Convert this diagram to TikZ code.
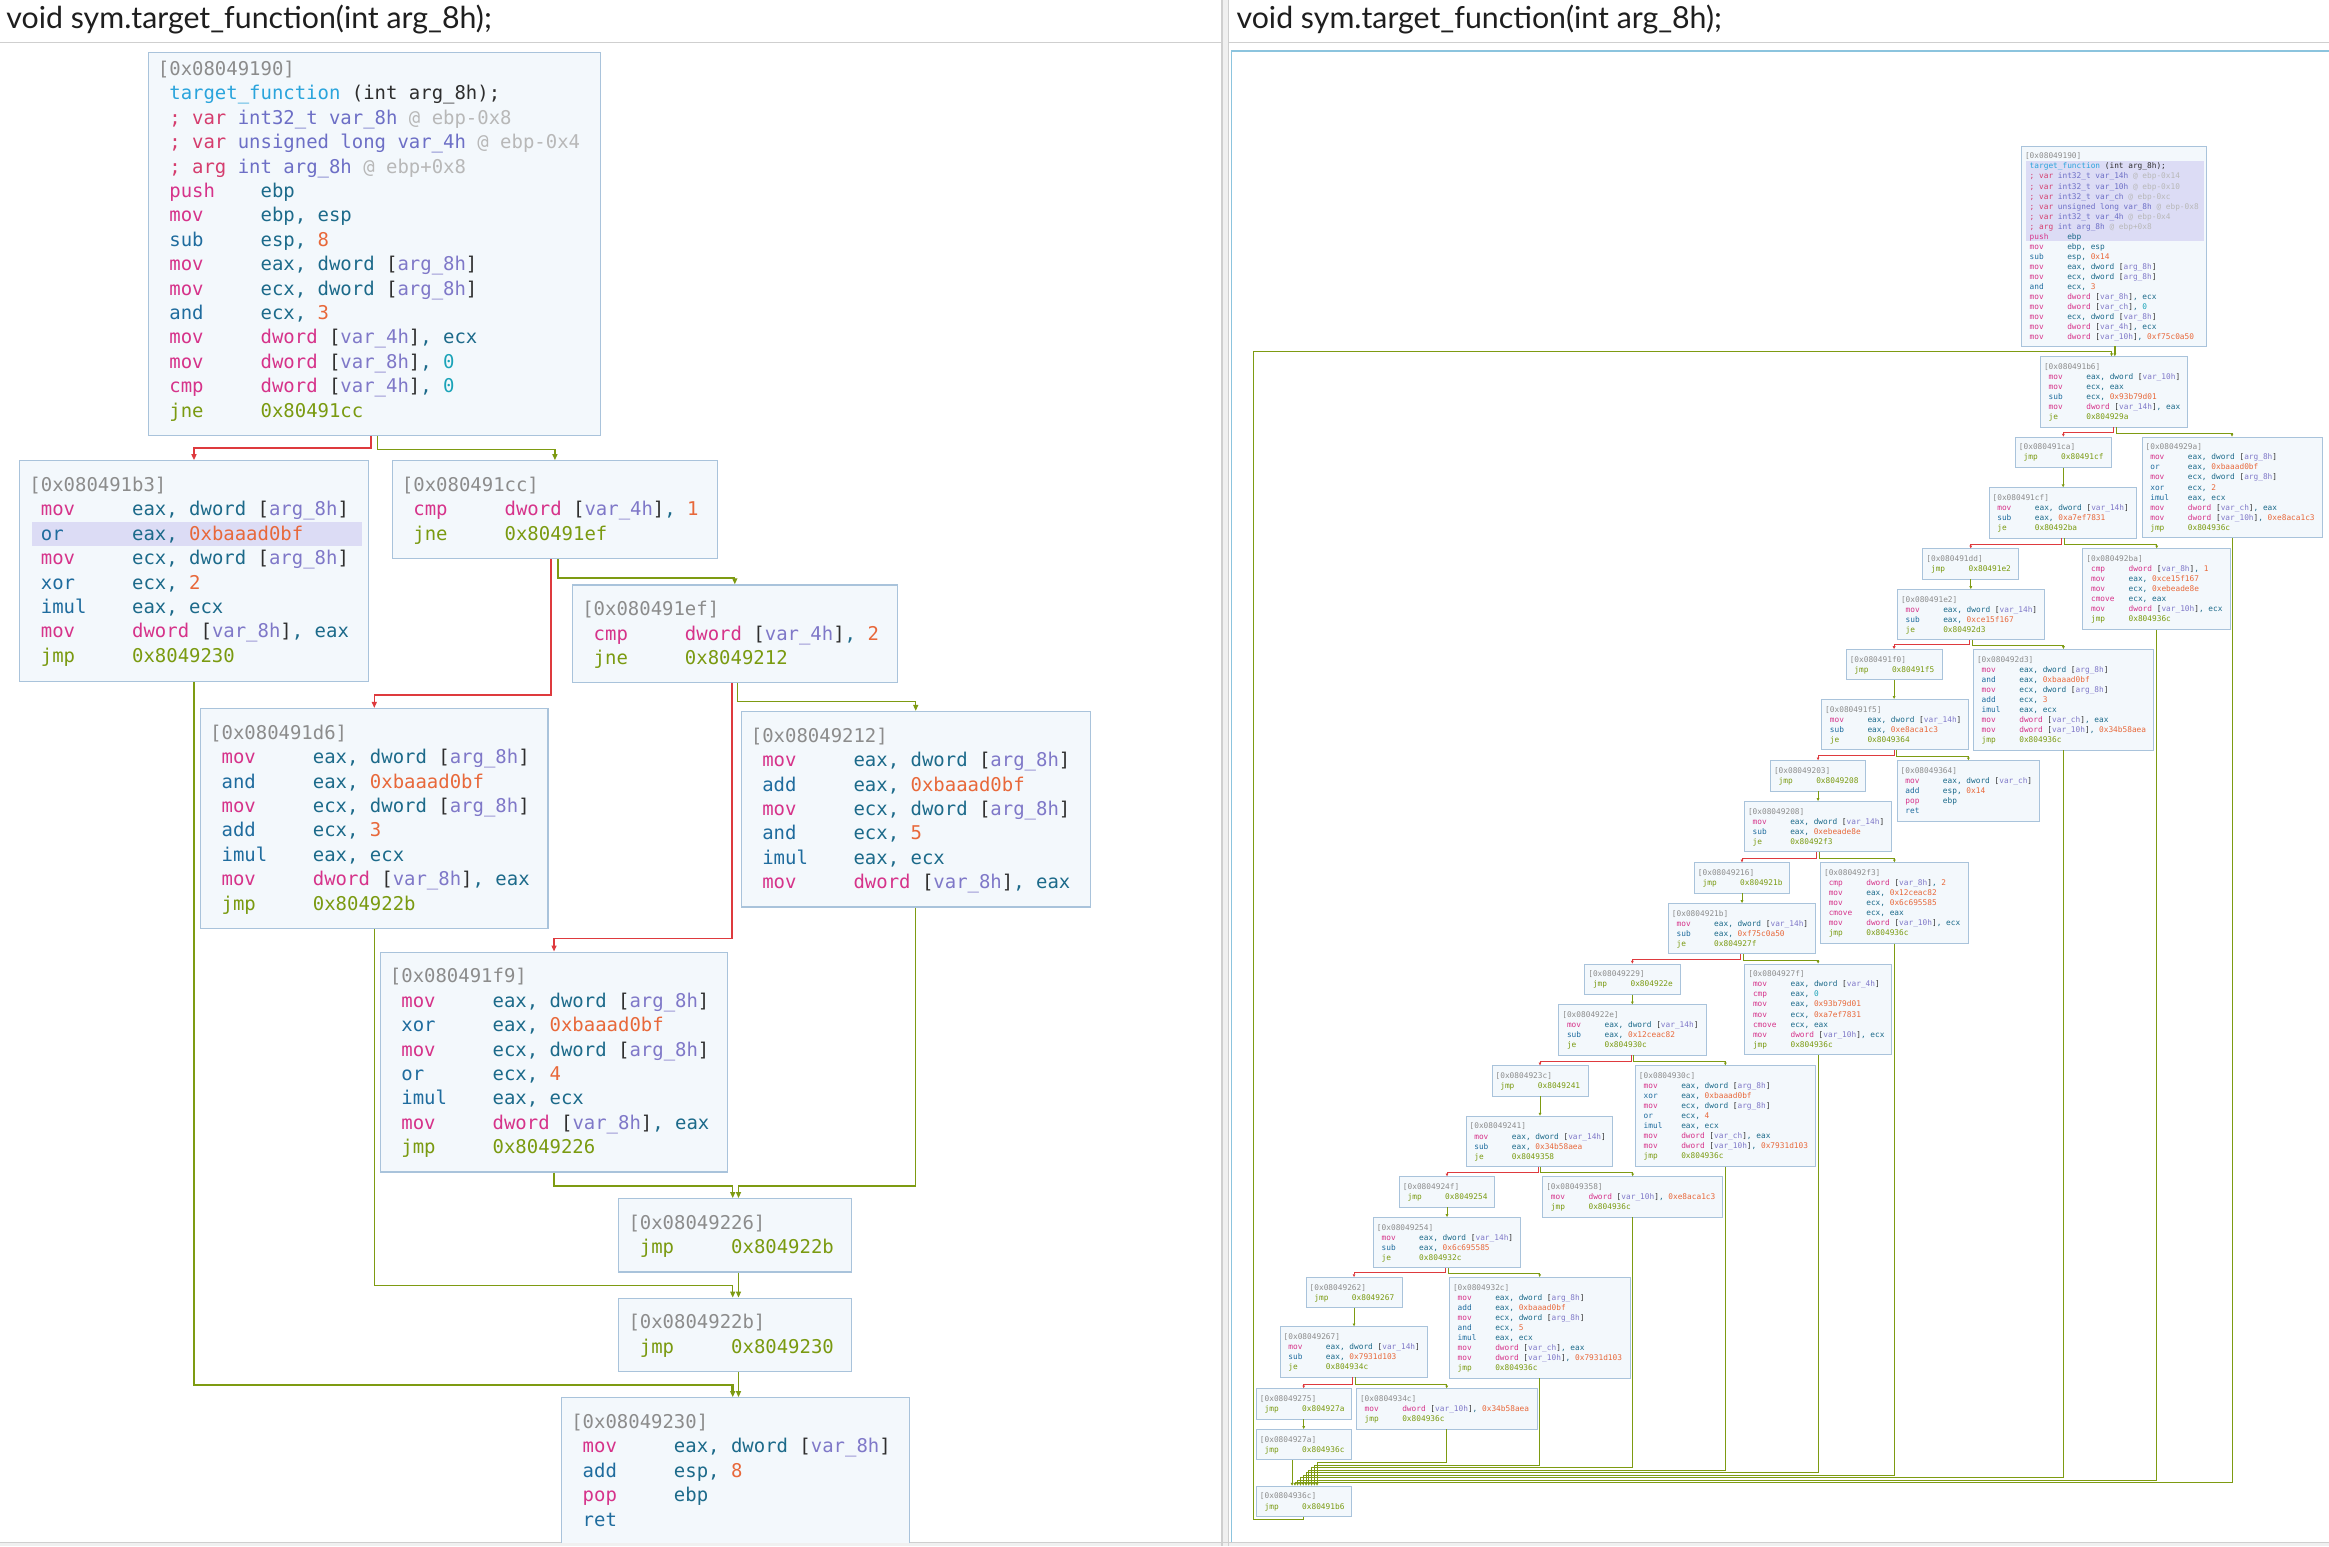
\documentclass[tikz,border=0pt]{standalone}
\usepackage{fontspec}
\usetikzlibrary{fit,arrows.meta}
\newfontfamily\hfont{Lato}
\newfontfamily\mfont{DejaVu Sans Mono}
\definecolor{caddr}{HTML}{8C8C8C}
\definecolor{cfunc}{HTML}{2AA4DC}
\definecolor{cdark}{HTML}{2E2E2E}
\definecolor{cvark}{HTML}{D53D6E}
\definecolor{ctype}{HTML}{6D6FC6}
\definecolor{cat}{HTML}{B8B8B8}
\definecolor{cpink}{HTML}{D6338A}
\definecolor{cblue}{HTML}{1F6C9E}
\definecolor{creg}{HTML}{1C6A8A}
\definecolor{cnum}{HTML}{E8683A}
\definecolor{czero}{HTML}{1AA3B8}
\definecolor{cvar}{HTML}{7F78C8}
\definecolor{cjmp}{HTML}{7A9A10}
\definecolor{cbfill}{HTML}{F3F8FC}
\definecolor{cbdraw}{HTML}{A9C3DB}
\definecolor{chl}{HTML}{DCDCF5}
\definecolor{cred}{HTML}{DE3A3E}
\definecolor{cgrn}{HTML}{7E9B12}
\definecolor{cframe}{HTML}{8CC4DE}
\definecolor{csep}{HTML}{CFCFCF}
\definecolor{csepfill}{HTML}{F0F0F0}
\definecolor{chead}{HTML}{1E1E1E}
\newcommand\cw{\fontcharwd\font`0 }
\newcommand\Ad[1]{\strut\textcolor{caddr}{[#1]}}
\newcommand\Lx[1]{\\\strut\hspace*{\cw}#1}
\newcommand\In[3]{\\\strut\hspace*{\cw}\makebox[8\cw][l]{\textcolor{#1}{#2}}#3}
\newcommand\Pk[2]{\In{cpink}{#1}{#2}}
\newcommand\Bl[2]{\In{cblue}{#1}{#2}}
\newcommand\Jm[2]{\In{cjmp}{#1}{\textcolor{cjmp}{#2}}}
\newcommand\Ri[1]{\textcolor{creg}{#1}}
\newcommand\Nu[1]{\textcolor{cnum}{#1}}
\newcommand\Ze[1]{\textcolor{czero}{#1}}
\newcommand\Va[1]{\textcolor{cdark}{[}\textcolor{cvar}{#1}\textcolor{cdark}{]}}
\newcommand\Src[1]{\textcolor{creg}{dword} \Va{#1}}
\newcommand\Dst[1]{\textcolor{cpink}{dword} \Va{#1}\Ri{,}}
\newcommand\Fn{\textcolor{cfunc}{target\_function} \textcolor{cdark}{(int arg\_8h);}}
\newcommand\Vr[3]{\textcolor{cvark}{; #1} \textcolor{ctype}{#2} \textcolor{cat}{@ #3}}
\newcommand\LB[7]{\node[lbox,fit={(#2,#3) (#4,#5)}] (#1) {};#7\node[ltext] (#1t) at (#2+6.4,#3+9.1) {#6};}
\newcommand\RB[7]{\node[rbox,fit={(#2,#3) (#4,#5)}] (#1) {};#7\node[rtext] (#1t) at (#2+2.3,#3+3.8) {#6};}
\newcommand\RC[9]{\draw[rr] (#1.south -| #2,0) |- (#5,#6) -- (#4.north -| #5,0);
\draw[rg] (#1.south -| #3,0) |- (#8,#9) -- (#7.north -| #8,0);}
\begin{document}
\begin{tikzpicture}[x=1.4853pt,y=-1.4853pt,
 lbox/.style={draw=cbdraw,fill=cbfill,line width=1.2pt,inner sep=0pt},
 rbox/.style={draw=cbdraw,fill=cbfill,line width=0.7pt,inner sep=0pt},
 ltext/.style={anchor=north west,inner sep=0pt,align=left,font=\mfont\fontsize{18.95}{24.4}\selectfont},
 rtext/.style={anchor=north west,inner sep=0pt,align=left,font=\mfont\fontsize{7.8}{10.04}\selectfont},
 lg/.style={draw=cgrn,line width=1.3pt,-{Triangle[length=6pt,width=5pt]}},
 lgt/.style={lg,line width=2.6pt},
 lr/.style={draw=cred,line width=1.3pt,-{Triangle[length=6pt,width=5pt]}},
 lrt/.style={lr,line width=2.6pt},
 rg/.style={draw=cgrn,line width=0.8pt,-{Triangle[length=2.8pt,width=2.6pt]}},
 rr/.style={draw=cred,line width=0.8pt,-{Triangle[length=2.8pt,width=2.6pt]}},
 hd/.style={anchor=base west,inner sep=0pt,font=\hfont\fontsize{30.3}{34}\selectfont,text=chead}]
\useasboundingbox (0,0) rectangle (1568,1041);
\fill[white] (0,0) rectangle (1568,1041);
% frame
\fill[csepfill] (822.7,0) rectangle (827.2,1041);
\fill[csepfill] (0,1038.6) rectangle (1568,1041);
\draw[csep,line width=1.2pt] (822.7,0) -- (822.7,1041);
\draw[csep,line width=1.2pt] (827.2,0) -- (827.2,1041);
\draw[csep,line width=1.2pt] (0,28.6) -- (822.7,28.6);
\draw[csep,line width=1.2pt] (827.2,28.6) -- (1568,28.6);
\draw[csep,line width=1.2pt] (0,1038.6) -- (1568,1038.6);
\draw[cframe,line width=1.3pt] (829,1038.4) -- (829,34.3) -- (1568,34.3);
\node[hd] (hl) at (4.2,19.3) {void sym.target\_function(int arg\_8h);};
\node[hd] (hr) at (832.4,19.3) {void sym.target\_function(int arg\_8h);};
% ================= left panel =================
\begin{scope}
\clip (0,33.8) rectangle (822.5,1038.4);
\node[lbox,fit={(99.8,35.2) (404.2,293.1)}] (L1) {};
\node[ltext] (L1t) at (106.2,39.2) {\Ad{0x08049190}\Lx{\Fn}\Lx{\Vr{var}{int32\_t var\_8h}{ebp-0x8}}\Lx{\Vr{var}{unsigned long var\_4h}{ebp-0x4}}\Lx{\Vr{arg}{int arg\_8h}{ebp+0x8}}\Pk{push}{\Ri{ebp}}\Pk{mov}{\Ri{ebp, esp}}\Bl{sub}{\Ri{esp,} \Nu{8}}\Pk{mov}{\Ri{eax,} \Src{arg\_8h}}\Pk{mov}{\Ri{ecx,} \Src{arg\_8h}}\Bl{and}{\Ri{ecx,} \Nu{3}}\Pk{mov}{\Dst{var\_4h} \Ri{ecx}}\Pk{mov}{\Dst{var\_8h} \Ze{0}}\Pk{cmp}{\Dst{var\_4h} \Ze{0}}\Jm{jne}{0x80491cc}};
\LB{L2}{13.3}{310.2}{248.1}{458.6}{\Ad{0x080491b3}\Pk{mov}{\Ri{eax,} \Src{arg\_8h}}\Bl{or}{\Ri{eax,} \Nu{0xbaaad0bf}}\Pk{mov}{\Ri{ecx,} \Src{arg\_8h}}\Bl{xor}{\Ri{ecx,} \Nu{2}}\Bl{imul}{\Ri{eax, ecx}}\Pk{mov}{\Dst{var\_8h} \Ri{eax}}\Jm{jmp}{0x8049230}}{\fill[chl] (21.3,351.1) rectangle (243.6,367.3);}
\LB{L3}{264.1}{310.2}{483.0}{376.1}{\Ad{0x080491cc}\Pk{cmp}{\Dst{var\_4h} \Nu{1}}\Jm{jne}{0x80491ef}}{}
\LB{L4}{385.5}{393.8}{604.0}{459.7}{\Ad{0x080491ef}\Pk{cmp}{\Dst{var\_4h} \Nu{2}}\Jm{jne}{0x8049212}}{}
\LB{L5}{135.0}{477.0}{369.0}{625.0}{\Ad{0x080491d6}\Pk{mov}{\Ri{eax,} \Src{arg\_8h}}\Bl{and}{\Ri{eax,} \Nu{0xbaaad0bf}}\Pk{mov}{\Ri{ecx,} \Src{arg\_8h}}\Bl{add}{\Ri{ecx,} \Nu{3}}\Bl{imul}{\Ri{eax, ecx}}\Pk{mov}{\Dst{var\_8h} \Ri{eax}}\Jm{jmp}{0x804922b}}{}
\LB{L6}{499.0}{479.0}{734.0}{610.6}{\Ad{0x08049212}\Pk{mov}{\Ri{eax,} \Src{arg\_8h}}\Bl{add}{\Ri{eax,} \Nu{0xbaaad0bf}}\Pk{mov}{\Ri{ecx,} \Src{arg\_8h}}\Bl{and}{\Ri{ecx,} \Nu{5}}\Bl{imul}{\Ri{eax, ecx}}\Pk{mov}{\Dst{var\_8h} \Ri{eax}}}{}
\LB{L7}{256.0}{641.0}{490.0}{789.0}{\Ad{0x080491f9}\Pk{mov}{\Ri{eax,} \Src{arg\_8h}}\Bl{xor}{\Ri{eax,} \Nu{0xbaaad0bf}}\Pk{mov}{\Ri{ecx,} \Src{arg\_8h}}\Bl{or}{\Ri{ecx,} \Nu{4}}\Bl{imul}{\Ri{eax, ecx}}\Pk{mov}{\Dst{var\_8h} \Ri{eax}}\Jm{jmp}{0x8049226}}{}
\LB{L8}{416.6}{807.0}{573.5}{856.4}{\Ad{0x08049226}\Jm{jmp}{0x804922b}}{}
\LB{L9}{416.6}{874.0}{573.5}{923.4}{\Ad{0x0804922b}\Jm{jmp}{0x8049230}}{}
\LB{L10}{378.1}{941.0}{612.4}{1045.0}{\Ad{0x08049230}\Pk{mov}{\Ri{eax,} \Src{var\_8h}}\Bl{add}{\Ri{esp,} \Nu{8}}\Pk{pop}{\Ri{ebp}}\Bl{ret}{}}{}
\draw[lrt] (L1.south -| 249.7,0) |- (130.6,301.5) -- (L2.north -| 130.6,0);
\draw[lg] (L1.south -| 254.3,0) |- (373.6,302.5) -- (L3.north -| 373.6,0);
\draw[lr] (L3.south -| 371.0,0) |- (252.0,468.0) -- (L5.north -| 252.0,0);
\draw[lg] (L3.south -| 375.7,0) |- (494.7,389.2) -- (L4.north -| 494.7,0);
\draw[lr] (L4.south -| 492.8,0) |- (373.0,632.0) -- (L7.north -| 373.0,0);
\draw[lg] (L4.south -| 496.7,0) |- (616.5,472.5) -- (L6.north -| 616.5,0);
\draw[lgt] (L2.south -| 130.6,0) |- (493.3,932.5) -- (L10.north -| 493.3,0);
\draw[lg] (L5.south -| 252.0,0) |- (493.3,865.5) -- (L9.north -| 493.3,0);
\draw[lg] (L7.south -| 373.0,0) |- (493.3,798.5) -- (L8.north -| 493.3,0);
\draw[lg] (L6.south -| 616.5,0) |- (497.2,798.5) -- (L8.north -| 497.2,0);
\draw[lg] (L8.south -| 497.2,0) -- (L9.north -| 497.2,0);
\draw[lg] (L9.south -| 497.2,0) -- (L10.north -| 497.2,0);
\end{scope}
% ================= right panel =================
\begin{scope}
\clip (829.6,34.9) rectangle (1568,1038.4);
\RB{R1}{1360.9}{98.3}{1485.4}{232.9}{\Ad{0x08049190}\Lx{\Fn}\Lx{\Vr{var}{int32\_t var\_14h}{ebp-0x14}}\Lx{\Vr{var}{int32\_t var\_10h}{ebp-0x10}}\Lx{\Vr{var}{int32\_t var\_ch}{ebp-0xc}}\Lx{\Vr{var}{unsigned long var\_8h}{ebp-0x8}}\Lx{\Vr{var}{int32\_t var\_4h}{ebp-0x4}}\Lx{\Vr{arg}{int arg\_8h}{ebp+0x8}}\Pk{push}{\Ri{ebp}}\Pk{mov}{\Ri{ebp, esp}}\Bl{sub}{\Ri{esp,} \Nu{0x14}}\Pk{mov}{\Ri{eax,} \Src{arg\_8h}}\Pk{mov}{\Ri{ecx,} \Src{arg\_8h}}\Bl{and}{\Ri{ecx,} \Nu{3}}\Pk{mov}{\Dst{var\_8h} \Ri{ecx}}\Pk{mov}{\Dst{var\_ch} \Ze{0}}\Pk{mov}{\Ri{ecx,} \Src{var\_8h}}\Pk{mov}{\Dst{var\_4h} \Ri{ecx}}\Pk{mov}{\Dst{var\_10h} \Nu{0xf75c0a50}}}{\fill[chl] (1364.0,108.6) rectangle (1483.9,162.2);}
\RB{R2}{1373.7}{240.1}{1472.9}{287.5}{\Ad{0x080491b6}\Pk{mov}{\Ri{eax,} \Src{var\_10h}}\Pk{mov}{\Ri{ecx, eax}}\Bl{sub}{\Ri{ecx,} \Nu{0x93b79d01}}\Pk{mov}{\Dst{var\_14h} \Ri{eax}}\Jm{je}{0x804929a}}{}
\RB{R3}{1356.8}{294.2}{1421.5}{314.6}{\Ad{0x080491ca}\Jm{jmp}{0x80491cf}}{}
\RB{R4}{1442.1}{294.2}{1563.3}{361.9}{\Ad{0x0804929a}\Pk{mov}{\Ri{eax,} \Src{arg\_8h}}\Bl{or}{\Ri{eax,} \Nu{0xbaaad0bf}}\Pk{mov}{\Ri{ecx,} \Src{arg\_8h}}\Bl{xor}{\Ri{ecx,} \Nu{2}}\Bl{imul}{\Ri{eax, ecx}}\Pk{mov}{\Dst{var\_ch} \Ri{eax}}\Pk{mov}{\Dst{var\_10h} \Nu{0xe8aca1c3}}\Jm{jmp}{0x804936c}}{}
\RB{R5}{1339.1}{328.3}{1438.3}{362.2}{\Ad{0x080491cf}\Pk{mov}{\Ri{eax,} \Src{var\_14h}}\Bl{sub}{\Ri{eax,} \Nu{0xa7ef7831}}\Jm{je}{0x80492ba}}{}
\RB{R6}{1294.5}{369.4}{1359.1}{389.8}{\Ad{0x080491dd}\Jm{jmp}{0x80491e2}}{}
\RB{R7}{1402.2}{369.4}{1501.8}{423.6}{\Ad{0x080492ba}\Pk{cmp}{\Dst{var\_8h} \Nu{1}}\Pk{mov}{\Ri{eax,} \Nu{0xce15f167}}\Pk{mov}{\Ri{ecx,} \Nu{0xebeade8e}}\Pk{cmove}{\Ri{ecx, eax}}\Pk{mov}{\Dst{var\_10h} \Ri{ecx}}\Jm{jmp}{0x804936c}}{}
\RB{R8}{1277.4}{396.8}{1376.2}{430.7}{\Ad{0x080491e2}\Pk{mov}{\Ri{eax,} \Src{var\_14h}}\Bl{sub}{\Ri{eax,} \Nu{0xce15f167}}\Jm{je}{0x80492d3}}{}
\RB{R9}{1242.9}{437.2}{1307.5}{457.6}{\Ad{0x080491f0}\Jm{jmp}{0x80491f5}}{}
\RB{R10}{1328.6}{437.2}{1449.8}{504.9}{\Ad{0x080492d3}\Pk{mov}{\Ri{eax,} \Src{arg\_8h}}\Bl{and}{\Ri{eax,} \Nu{0xbaaad0bf}}\Pk{mov}{\Ri{ecx,} \Src{arg\_8h}}\Bl{add}{\Ri{ecx,} \Nu{3}}\Bl{imul}{\Ri{eax, ecx}}\Pk{mov}{\Dst{var\_ch} \Ri{eax}}\Pk{mov}{\Dst{var\_10h} \Nu{0x34b58aea}}\Jm{jmp}{0x804936c}}{}
\RB{R11}{1226.4}{470.8}{1325.4}{504.7}{\Ad{0x080491f5}\Pk{mov}{\Ri{eax,} \Src{var\_14h}}\Bl{sub}{\Ri{eax,} \Nu{0xe8aca1c3}}\Jm{je}{0x8049364}}{}
\RB{R12}{1191.9}{512.1}{1256.1}{532.5}{\Ad{0x08049203}\Jm{jmp}{0x8049208}}{}
\RB{R13}{1277.2}{512.1}{1373.2}{552.7}{\Ad{0x08049364}\Pk{mov}{\Ri{eax,} \Src{var\_ch}}\Bl{add}{\Ri{esp,} \Nu{0x14}}\Pk{pop}{\Ri{ebp}}\Bl{ret}{}}{}
\RB{R14}{1174.4}{539.5}{1273.6}{573.4}{\Ad{0x08049208}\Pk{mov}{\Ri{eax,} \Src{var\_14h}}\Bl{sub}{\Ri{eax,} \Nu{0xebeade8e}}\Jm{je}{0x80492f3}}{}
\RB{R15}{1140.7}{580.8}{1204.9}{601.2}{\Ad{0x08049216}\Jm{jmp}{0x804921b}}{}
\RB{R16}{1225.6}{580.8}{1325.2}{635.0}{\Ad{0x080492f3}\Pk{cmp}{\Dst{var\_8h} \Nu{2}}\Pk{mov}{\Ri{eax,} \Nu{0x12ceac82}}\Pk{mov}{\Ri{ecx,} \Nu{0x6c695585}}\Pk{cmove}{\Ri{ecx, eax}}\Pk{mov}{\Dst{var\_10h} \Ri{ecx}}\Jm{jmp}{0x804936c}}{}
\RB{R17}{1123.2}{608.2}{1222.4}{642.1}{\Ad{0x0804921b}\Pk{mov}{\Ri{eax,} \Src{var\_14h}}\Bl{sub}{\Ri{eax,} \Nu{0xf75c0a50}}\Jm{je}{0x804927f}}{}
\RB{R18}{1066.9}{649.0}{1131.1}{669.4}{\Ad{0x08049229}\Jm{jmp}{0x804922e}}{}
\RB{R19}{1174.6}{649.0}{1273.4}{709.9}{\Ad{0x0804927f}\Pk{mov}{\Ri{eax,} \Src{var\_4h}}\Pk{cmp}{\Ri{eax,} \Ze{0}}\Pk{mov}{\Ri{eax,} \Nu{0x93b79d01}}\Pk{mov}{\Ri{ecx,} \Nu{0xa7ef7831}}\Pk{cmove}{\Ri{ecx, eax}}\Pk{mov}{\Dst{var\_10h} \Ri{ecx}}\Jm{jmp}{0x804936c}}{}
\RB{R20}{1049.4}{676.4}{1148.6}{710.3}{\Ad{0x0804922e}\Pk{mov}{\Ri{eax,} \Src{var\_14h}}\Bl{sub}{\Ri{eax,} \Nu{0x12ceac82}}\Jm{je}{0x804930c}}{}
\RB{R21}{1004.5}{717.5}{1069.1}{737.9}{\Ad{0x0804923c}\Jm{jmp}{0x8049241}}{}
\RB{R22}{1101.0}{717.5}{1222.2}{785.2}{\Ad{0x0804930c}\Pk{mov}{\Ri{eax,} \Src{arg\_8h}}\Bl{xor}{\Ri{eax,} \Nu{0xbaaad0bf}}\Pk{mov}{\Ri{ecx,} \Src{arg\_8h}}\Bl{or}{\Ri{ecx,} \Nu{4}}\Bl{imul}{\Ri{eax, ecx}}\Pk{mov}{\Dst{var\_ch} \Ri{eax}}\Pk{mov}{\Dst{var\_10h} \Nu{0x7931d103}}\Jm{jmp}{0x804936c}}{}
\RB{R23}{987.0}{751.4}{1085.7}{785.3}{\Ad{0x08049241}\Pk{mov}{\Ri{eax,} \Src{var\_14h}}\Bl{sub}{\Ri{eax,} \Nu{0x34b58aea}}\Jm{je}{0x8049358}}{}
\RB{R24}{942.1}{792.2}{1006.3}{812.6}{\Ad{0x0804924f}\Jm{jmp}{0x8049254}}{}
\RB{R25}{1038.6}{792.2}{1159.8}{819.3}{\Ad{0x08049358}\Pk{mov}{\Dst{var\_10h} \Nu{0xe8aca1c3}}\Jm{jmp}{0x804936c}}{}
\RB{R26}{924.6}{819.6}{1023.8}{853.5}{\Ad{0x08049254}\Pk{mov}{\Ri{eax,} \Src{var\_14h}}\Bl{sub}{\Ri{eax,} \Nu{0x6c695585}}\Jm{je}{0x804932c}}{}
\RB{R27}{879.3}{860.0}{943.9}{880.4}{\Ad{0x08049262}\Jm{jmp}{0x8049267}}{}
\RB{R28}{975.8}{860.0}{1097.4}{927.7}{\Ad{0x0804932c}\Pk{mov}{\Ri{eax,} \Src{arg\_8h}}\Bl{add}{\Ri{eax,} \Nu{0xbaaad0bf}}\Pk{mov}{\Ri{ecx,} \Src{arg\_8h}}\Bl{and}{\Ri{ecx,} \Nu{5}}\Bl{imul}{\Ri{eax, ecx}}\Pk{mov}{\Dst{var\_ch} \Ri{eax}}\Pk{mov}{\Dst{var\_10h} \Nu{0x7931d103}}\Jm{jmp}{0x804936c}}{}
\RB{R29}{861.8}{893.2}{961.0}{927.1}{\Ad{0x08049267}\Pk{mov}{\Ri{eax,} \Src{var\_14h}}\Bl{sub}{\Ri{eax,} \Nu{0x7931d103}}\Jm{je}{0x804934c}}{}
\RB{R30}{845.8}{934.9}{909.6}{955.3}{\Ad{0x08049275}\Jm{jmp}{0x804927a}}{}
\RB{R31}{913.2}{934.9}{1034.8}{962.0}{\Ad{0x0804934c}\Pk{mov}{\Dst{var\_10h} \Nu{0x34b58aea}}\Jm{jmp}{0x804936c}}{}
\RB{R32}{845.8}{962.3}{909.6}{982.7}{\Ad{0x0804927a}\Jm{jmp}{0x804936c}}{}
\RB{R33}{845.8}{1000.5}{910.0}{1020.9}{\Ad{0x0804936c}\Jm{jmp}{0x80491b6}}{}
% edges
\draw[rg,line width=1.6pt] (R1.south -| 1423.8,0) -- (R2.north -| 1423.8,0);
\draw[rg,line width=1.0pt] (R33.south -| 877.9,0) -- (877.9,1023.2) -- (843.6,1023.2) -- (843.6,236.8) -- (1421.6,236.8) -- (R2.north -| 1421.6,0);
\RC{R2}{1423.0}{1424.6}{R3}{1389.15}{291.0}{R4}{1502.7}{291.6}
\RC{R5}{1388.0}{1389.6}{R6}{1326.8}{366.2}{R7}{1452.0}{366.8}
\RC{R8}{1326.0}{1327.6}{R9}{1275.2}{434.0}{R10}{1389.2}{434.6}
\RC{R11}{1275.1}{1276.7}{R12}{1224.0}{508.9}{R13}{1325.2}{509.5}
\RC{R14}{1223.2}{1224.8}{R15}{1172.8}{577.6}{R16}{1275.4}{578.2}
\RC{R17}{1172.0}{1173.6}{R18}{1099.0}{645.8}{R19}{1224.0}{646.4}
\RC{R20}{1098.2}{1099.8}{R21}{1036.8}{714.3}{R22}{1161.6}{714.9}
\RC{R23}{1035.5}{1037.1}{R24}{974.2}{789.0}{R25}{1099.2}{789.6}
\RC{R26}{973.4}{975.0}{R27}{911.6}{856.8}{R28}{1036.6}{857.4}
\RC{R29}{910.6}{912.2}{R30}{877.7}{931.7}{R31}{974.0}{932.3}
\draw[rg] (R3.south -| 1389.0,0) -- (R5.north -| 1389.0,0);
\draw[rg] (R6.south -| 1326.8,0) -- (R8.north -| 1326.8,0);
\draw[rg] (R9.south -| 1275.2,0) -- (R11.north -| 1275.2,0);
\draw[rg] (R12.south -| 1224.0,0) -- (R14.north -| 1224.0,0);
\draw[rg] (R15.south -| 1172.8,0) -- (R17.north -| 1172.8,0);
\draw[rg] (R18.south -| 1099.0,0) -- (R20.north -| 1099.0,0);
\draw[rg] (R21.south -| 1036.8,0) -- (R23.north -| 1036.8,0);
\draw[rg] (R24.south -| 974.2,0) -- (R26.north -| 974.2,0);
\draw[rg] (R27.south -| 911.6,0) -- (R29.north -| 911.6,0);
\draw[rg] (R30.south -| 877.7,0) -- (R32.north -| 877.7,0);
\draw[rg] (R32.south -| 869.9,0) -- (R33.north -| 869.9,0);
\draw[rg] (R4.south -| 1502.7,0) |- (871.8,998.1) -- (R33.north -| 871.8,0);
\draw[rg] (R7.south -| 1452.0,0) |- (873.6,996.4) -- (R33.north -| 873.6,0);
\draw[rg] (R10.south -| 1389.2,0) |- (875.5,994.7) -- (R33.north -| 875.5,0);
\draw[rg] (R16.south -| 1275.4,0) |- (877.4,993.1) -- (R33.north -| 877.4,0);
\draw[rg] (R19.south -| 1224.0,0) |- (879.3,991.5) -- (R33.north -| 879.3,0);
\draw[rg] (R22.south -| 1161.6,0) |- (881.1,989.8) -- (R33.north -| 881.1,0);
\draw[rg] (R25.south -| 1099.2,0) |- (883.0,988.1) -- (R33.north -| 883.0,0);
\draw[rg] (R28.south -| 1036.6,0) |- (884.9,986.4) -- (R33.north -| 884.9,0);
\draw[rg] (R31.south -| 974.0,0) |- (886.7,984.8) -- (R33.north -| 886.7,0);
\end{scope}
\end{tikzpicture}
\end{document}
